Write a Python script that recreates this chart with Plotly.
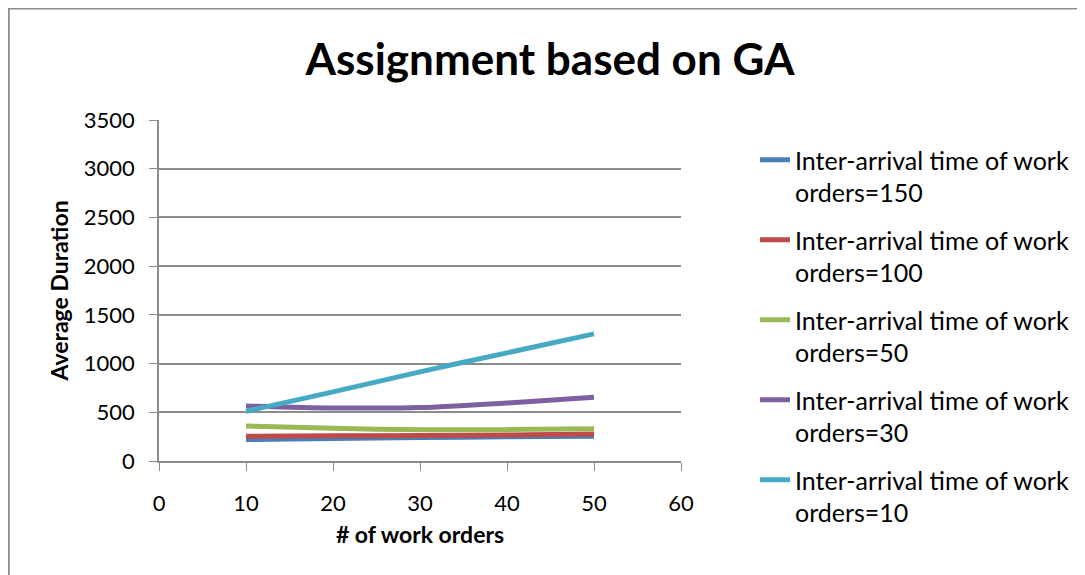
import plotly.graph_objects as go

# ── Data ────────────────────────────────────────────────────────────────────
work_orders = [10, 20, 30, 40, 50]
iat_150 = [220, 232, 240, 248, 255]
iat_100 = [255, 258, 262, 268, 278]
iat_50 = [360, 335, 320, 322, 330]
iat_30 = [565, 545, 548, 595, 655]
iat_10 = [510, 710, 915, 1110, 1305]

series = [
    ("Inter-arrival time of work<br>orders=150", iat_150, "#4A7EBB"),
    ("Inter-arrival time of work<br>orders=100", iat_100, "#BE4B48"),
    ("Inter-arrival time of work<br>orders=50", iat_50, "#98B954"),
    ("Inter-arrival time of work<br>orders=30", iat_30, "#7D60A0"),
    ("Inter-arrival time of work<br>orders=10", iat_10, "#46AAC5"),
]

FONT = "Lato, 'Open Sans', sans-serif"
GRID = "#8c8c8c"

fig = go.Figure()
for i, (name, vals, color) in enumerate(series):
    fig.add_trace(go.Scatter(
        x=work_orders, y=vals, name=name, mode="lines",
        line=dict(color=color, width=5, shape="spline", smoothing=0.8),
        legendgroup=f"g{i}",
    ))

# page body has an 8px margin, so the figure is 8px smaller than the window
W, H = 1077, 567
L, T = 151, 112
pw, ph = 523, 341
R, B = W - L - pw, H - T - ph

fig.update_layout(
    width=W, height=H,
    margin=dict(l=L, r=R, t=T, b=B),
    paper_bgcolor="white", plot_bgcolor="white",
    font=dict(family=FONT, size=22, color="black"),
    title=dict(text="<b>Assignment based on GA</b>", x=542 / W, xanchor="center",
               y=1 - 52 / H, yanchor="middle",
               font=dict(family=FONT, size=44, color="black")),
    xaxis=dict(range=[0, 60], dtick=10, showgrid=False, showline=True,
               linecolor=GRID, linewidth=1.5, ticks="outside", ticklen=8,
               tickcolor=GRID, zeroline=False, ticklabelstandoff=14,
               title=dict(text="<b># of work orders</b>", font=dict(size=23), standoff=12)),
    yaxis=dict(range=[0, 3500], dtick=500, showgrid=True, gridcolor=GRID,
               gridwidth=1.5, showline=True, linecolor=GRID, linewidth=1.5,
               ticks="outside", ticklen=8, tickcolor=GRID, zeroline=False,
               ticklabelstandoff=10,
               title=dict(text="<b>Average Duration</b>", font=dict(size=23), standoff=9)),
    legend=dict(x=(747 - L) / pw, xanchor="left", y=(T + ph - 129) / ph, yanchor="top",
                valign="top", tracegroupgap=12, maxheight=480,
                font=dict(size=25, family=FONT), bgcolor="rgba(0,0,0,0)"),
    showlegend=True,
)

# outer chart border (top and left edges visible)
fig.add_shape(type="rect", xref="paper", yref="paper",
              x0=(0.5 - L) / pw, x1=(W + 20 - L) / pw,
              y0=(T + ph - (H + 20)) / ph, y1=(T + ph - 0.5) / ph,
              line=dict(color=GRID, width=2), layer="below")

fig.write_html("out.html")
